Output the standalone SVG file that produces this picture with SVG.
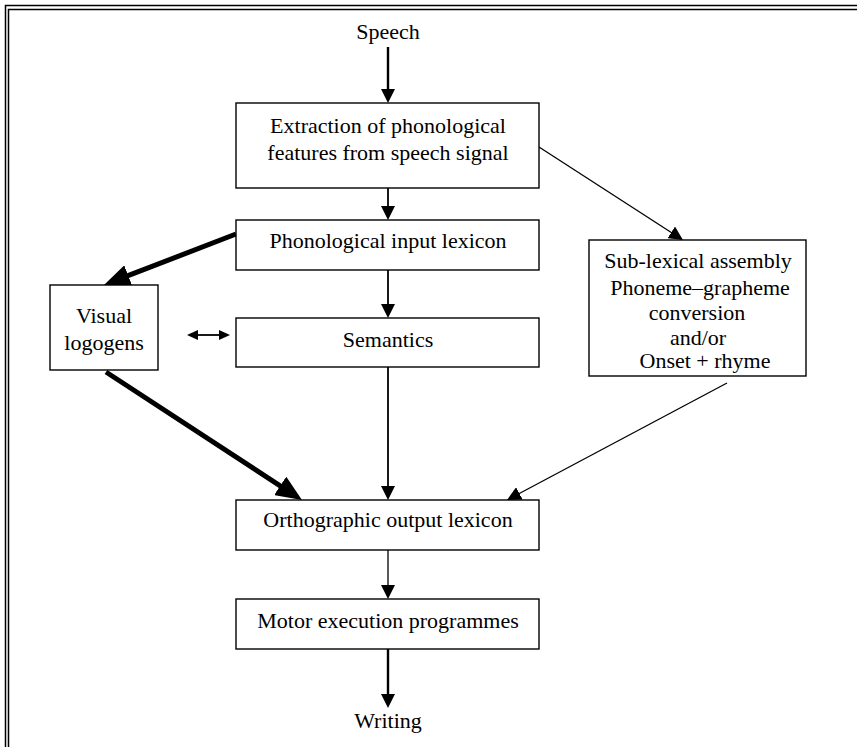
<svg xmlns="http://www.w3.org/2000/svg" width="857" height="747" viewBox="0 0 857 747">
  <style>
    .frame { fill: none; stroke: #000; stroke-width: 1.5; }
    .box { fill: #fff; stroke: #000; stroke-width: 1.4; }
    .lbl { font-family: "Liberation Serif", "Times New Roman", serif; font-size: 22px; fill: #000; text-anchor: middle; }
    .thin { stroke: #000; stroke-width: 1.3; fill: none; }
    .mid { stroke: #000; stroke-width: 1.8; fill: none; }
    .bold { stroke: #000; stroke-width: 2.4; fill: none; }
    .heavy { stroke: #000; stroke-width: 5; fill: none; }
  </style>
  <defs>
    <marker id="arrow" viewBox="0 0 14 14" markerWidth="14" markerHeight="14" refX="7" refY="7" markerUnits="userSpaceOnUse" orient="auto">
      <path d="M0,0 L14,7 L0,14 z" fill="#000"/>
    </marker>
    <marker id="arrowBig" viewBox="0 0 26 22" markerWidth="26" markerHeight="22" refX="10" refY="11" markerUnits="userSpaceOnUse" orient="auto">
      <path d="M0,0 L26,11 L0,22 z" fill="#000"/>
    </marker>
    <marker id="arrowSmall" viewBox="0 0 11 10" markerWidth="11" markerHeight="10" refX="5" refY="5" markerUnits="userSpaceOnUse" orient="auto-start-reverse">
      <path d="M0,0 L11,5 L0,10 z" fill="#000"/>
    </marker>
  </defs>

  <!-- double rule along the top and left edges -->
  <path class="frame" d="M5.5,747 V5.5 H857"/>
  <path class="frame" d="M8.5,747 V9.5 H857"/>

  <!-- connectors -->
  <g id="connectors">
    <line class="bold" x1="388" y1="47" x2="388" y2="96" marker-end="url(#arrow)"/>
    <line class="mid" x1="388" y1="188" x2="388" y2="213" marker-end="url(#arrow)"/>
    <line class="mid" x1="388" y1="270" x2="388" y2="311" marker-end="url(#arrow)"/>
    <line class="mid" x1="388" y1="367" x2="388" y2="493" marker-end="url(#arrow)"/>
    <line class="thin" x1="388" y1="550" x2="388" y2="592" marker-end="url(#arrow)"/>
    <line class="bold" x1="388" y1="649" x2="388" y2="701" marker-end="url(#arrow)"/>
    <line class="thin" x1="539" y1="147" x2="677.1" y2="236.2" marker-end="url(#arrow)"/>
    <line class="thin" x1="727" y1="383" x2="513.2" y2="496.7" marker-end="url(#arrow)"/>
    <line class="heavy" x1="236" y1="234" x2="118.9" y2="279.2" marker-end="url(#arrowBig)"/>
    <line class="heavy" x1="106" y1="372" x2="288.6" y2="491.3" marker-end="url(#arrowBig)"/>
    <line class="mid" x1="193" y1="335" x2="224" y2="335" marker-start="url(#arrowSmall)" marker-end="url(#arrowSmall)"/>
  </g>

  <g id="speech">
    <text class="lbl" x="388" y="39">Speech</text>
  </g>

  <g id="extraction">
    <rect class="box" x="236" y="103" width="303" height="85"/>
    <text class="lbl" x="388" y="133">Extraction of phonological</text>
    <text class="lbl" x="388" y="160">features from speech signal</text>
  </g>

  <g id="phonological-input">
    <rect class="box" x="236" y="220" width="303" height="50"/>
    <text class="lbl" x="388" y="248">Phonological input lexicon</text>
  </g>

  <g id="semantics">
    <rect class="box" x="236" y="318" width="303" height="49"/>
    <text class="lbl" x="388" y="347">Semantics</text>
  </g>

  <g id="visual-logogens">
    <rect class="box" x="50" y="285" width="108" height="85"/>
    <text class="lbl" x="104" y="323">Visual</text>
    <text class="lbl" x="104" y="350">logogens</text>
  </g>

  <g id="sub-lexical">
    <rect class="box" x="589" y="240" width="217" height="136"/>
    <text class="lbl" x="698" y="268">Sub-lexical assembly</text>
    <text class="lbl" x="700" y="295">Phoneme–grapheme</text>
    <text class="lbl" x="697" y="320">conversion</text>
    <text class="lbl" x="698" y="345">and/or</text>
    <text class="lbl" x="705" y="368">Onset + rhyme</text>
  </g>

  <g id="orthographic-output">
    <rect class="box" x="236" y="500" width="303" height="50"/>
    <text class="lbl" x="388" y="527">Orthographic output lexicon</text>
  </g>

  <g id="motor-execution">
    <rect class="box" x="236" y="599" width="303" height="50"/>
    <text class="lbl" x="388" y="628">Motor execution programmes</text>
  </g>

  <g id="writing">
    <text class="lbl" x="388" y="728">Writing</text>
  </g>
</svg>
